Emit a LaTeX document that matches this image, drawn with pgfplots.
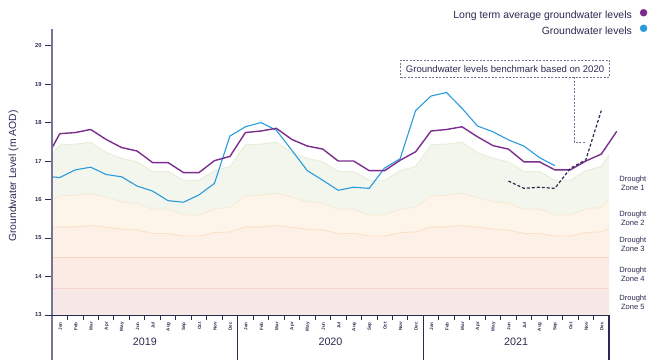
\documentclass[border=0pt]{standalone}
\usepackage{fontspec}
\setmainfont{Liberation Sans}
\usepackage{pgfplots}
\pgfplotsset{compat=1.18}
\usepackage{pgfplotstable}
\definecolor{navy}{HTML}{2B2A52}
\definecolor{axisgrey}{HTML}{77739A}
\definecolor{ltaP}{HTML}{7B2D8E}
\definecolor{gwB}{HTML}{2A9BDC}
\definecolor{zoneA}{HTML}{F2F6EC}
\definecolor{zoneAline}{HTML}{E4EDD6}
\definecolor{zoneB}{HTML}{FDF5E9}
\definecolor{zoneBline}{HTML}{F7EAD3}
\definecolor{zoneC}{HTML}{FDF0E6}
\definecolor{zoneCline}{HTML}{FBE0C6}
\definecolor{zoneD}{HTML}{FCEBE4}
\definecolor{zoneDline}{HTML}{F9D5C6}
\definecolor{zoneE}{HTML}{F7E8E8}
\definecolor{zoneEline}{HTML}{F5D2CB}

\pgfplotstableread{
x z1 z2 z3
0 17.16 15.99 15.25
0.5 17.42 16.09 15.29
1.5 17.44 16.11 15.29
2.5 17.49 16.16 15.32
3.5 17.22 16.06 15.28
4.5 17.07 15.94 15.23
5.5 16.98 15.90 15.21
6.5 16.73 15.75 15.12
7.5 16.73 15.75 15.12
8.5 16.50 15.60 15.05
9.5 16.50 15.60 15.05
10.5 16.75 15.75 15.14
11.5 16.86 15.80 15.16
12.5 17.42 16.09 15.29
13.5 17.44 16.11 15.29
14.5 17.49 16.16 15.32
15.5 17.22 16.06 15.28
16.5 17.07 15.94 15.23
17.5 16.98 15.90 15.21
18.5 16.73 15.75 15.12
19.5 16.73 15.75 15.12
20.5 16.50 15.60 15.05
21.5 16.50 15.60 15.05
22.5 16.75 15.75 15.14
23.5 16.86 15.80 15.16
24.5 17.42 16.09 15.29
25.5 17.44 16.11 15.29
26.5 17.49 16.16 15.32
27.5 17.22 16.06 15.28
28.5 17.07 15.94 15.23
29.5 16.98 15.90 15.21
30.5 16.73 15.75 15.12
31.5 16.73 15.75 15.12
32.5 16.50 15.60 15.05
33.5 16.50 15.60 15.05
34.5 16.75 15.75 15.14
35.5 16.86 15.80 15.16
36 17.16 15.99 15.25
}\zones

\pgfplotstableread{
x y
0 17.34
0.5 17.71
1.5 17.74
2.5 17.82
3.5 17.56
4.5 17.35
5.5 17.26
6.5 16.96
7.5 16.96
8.5 16.70
9.5 16.70
10.5 17.01
11.5 17.12
12.5 17.74
13.5 17.78
14.5 17.85
15.5 17.56
16.5 17.39
17.5 17.31
18.5 17.00
19.5 17.00
20.5 16.75
21.5 16.75
22.5 17.02
23.5 17.24
24.5 17.78
25.5 17.82
26.5 17.89
27.5 17.63
28.5 17.40
29.5 17.31
30.5 16.98
31.5 16.98
32.5 16.77
33.5 16.77
34.5 17.00
35.5 17.18
36.5 17.77
}\lta

\pgfplotstableread{
x y
0 16.59
0.5 16.57
1.5 16.77
2.5 16.84
3.5 16.65
4.5 16.59
5.5 16.35
6.5 16.22
7.5 15.97
8.5 15.93
9.5 16.12
10.5 16.42
11.5 17.65
12.5 17.89
13.5 18.00
14.5 17.80
15.5 17.28
16.5 16.75
17.5 16.50
18.5 16.24
19.5 16.32
20.5 16.29
21.5 16.82
22.5 17.06
23.5 18.31
24.5 18.69
25.5 18.78
26.5 18.37
27.5 17.91
28.5 17.76
29.5 17.55
30.5 17.39
31.5 17.09
32.5 16.88
}\gw

\pgfplotstableread{
x y
29.5 16.48
30.5 16.29
31.5 16.32
32.5 16.29
33.5 16.81
34.5 17.03
35.5 18.31
}\bench

\begin{document}
\begin{tikzpicture}
\useasboundingbox (-52bp,-45bp) rectangle (605bp,315bp);
\begin{axis}[
  scale only axis, width=557bp, height=286bp,
  xmin=0, xmax=36, ymin=13, ymax=20.43,
  clip=false, axis on top,
  axis x line*=bottom, axis y line*=left,
  x axis line style={-, navy, line width=0.8bp},
  y axis line style={-, axisgrey, line width=2bp},
  tick align=outside,
  major tick length=7bp, minor tick length=5bp,
  ytick={13,...,20},
  ytick style={navy, line width=0.8bp},
  yticklabel style={font=\bfseries\fontsize{5.8}{6}\selectfont, text=navy},
  /pgf/number format/assume math mode=true,
  xtick={0.5,1.5,...,35.5},
  xticklabels={Jan,Feb,Mar,Apr,May,Jun,Jul,Aug,Sep,Oct,Nov,Dec,Jan,Feb,Mar,Apr,May,Jun,Jul,Aug,Sep,Oct,Nov,Dec,Jan,Feb,Mar,Apr,May,Jun,Jul,Aug,Sep,Oct,Nov,Dec},
  major x tick style={draw=none},
  minor xtick={1,...,11,13,14,...,23,25,26,...,35},
  minor x tick style={navy, line width=0.8bp},
  xticklabel style={rotate=90, anchor=east, font=\bfseries\fontsize{4.6}{5}\selectfont, text=navy, inner sep=0pt, yshift=-0.5bp},
  ylabel={Groundwater Level (m AOD)},
  ylabel style={at={(axis description cs:-0.0691,0.486)}, anchor=center, font=\fontsize{10.4}{12}\selectfont, text=navy},
  legend style={draw=none, fill=none, at={(axis description cs:1.0691,1.0705)}, anchor=north east,
    font=\fontsize{10.5}{12}\selectfont, text=navy, row sep=3.1bp, column sep=8bp,
    inner sep=0pt, nodes={inner sep=0pt, text height=8bp, text depth=2.5bp}},
  legend cell align=right, legend plot pos=right,
]
\addplot[fill=zoneA, draw=none, forget plot] table[x=x,y=z1]{\zones} -- (axis cs:36,13) -- (axis cs:0,13) -- cycle;
\addplot[fill=zoneB, draw=none, forget plot] table[x=x,y=z2]{\zones} -- (axis cs:36,13) -- (axis cs:0,13) -- cycle;
\addplot[fill=zoneC, draw=none, forget plot] table[x=x,y=z3]{\zones} -- (axis cs:36,13) -- (axis cs:0,13) -- cycle;
\addplot[fill=zoneD, draw=none, forget plot] coordinates {(0,14.5) (36,14.5) (36,13) (0,13)} -- cycle;
\addplot[fill=zoneE, draw=none, forget plot] coordinates {(0,13.7) (36,13.7) (36,13) (0,13)} -- cycle;
\addplot[draw=zoneAline, line width=0.8bp, forget plot] table[x=x,y=z1]{\zones};
\addplot[draw=zoneBline, line width=0.8bp, forget plot] table[x=x,y=z2]{\zones};
\addplot[draw=zoneCline, line width=0.8bp, forget plot] table[x=x,y=z3]{\zones};
\addplot[draw=zoneDline, line width=0.8bp, forget plot] coordinates {(0,14.5) (36,14.5)};
\addplot[draw=zoneEline, line width=0.8bp, forget plot] coordinates {(0,13.7) (36,13.7)};

\addplot[gwB, line width=1.1bp, line join=round, forget plot] table[x=x,y=y]{\gw};
\addplot[ltaP, line width=1.4bp, line join=round, forget plot] table[x=x,y=y]{\lta};
\addplot[navy, line width=1.2bp, dash pattern=on 3bp off 2bp, forget plot] table[x=x,y=y]{\bench};

\addlegendimage{only marks, mark=*, mark size=3.5bp, color=ltaP, legend image code/.code={\fill[ltaP] (3.5bp,3.5bp) circle[radius=3.5bp];}}
\addlegendentry{Long term average groundwater levels}
\addlegendimage{only marks, mark=*, mark size=3.5bp, color=gwB, legend image code/.code={\fill[gwB] (3.5bp,3.5bp) circle[radius=3.5bp];}}
\addlegendentry{Groundwater levels}

\draw[axisgrey, line width=2bp] (axis cs:0,13) -- ++(0,-28bp);
\draw[navy, line width=0.8bp] (axis cs:12,13) -- ++(0,-28bp);
\draw[navy, line width=0.8bp] (axis cs:24,13) -- ++(0,-28bp);
\draw[navy, line width=1.1bp] (axis cs:36,13) -- ++(0,-28bp);

\node[font=\fontsize{10.8}{12}\selectfont, text=navy] at (axis cs:6,13) [yshift=-27bp] {2019};
\node[font=\fontsize{10.8}{12}\selectfont, text=navy] at (axis cs:18,13) [yshift=-27bp] {2020};
\node[font=\fontsize{10.8}{12}\selectfont, text=navy] at (axis cs:30,13) [yshift=-27bp] {2021};

\node[draw=axisgrey, line width=0.7bp, dash pattern=on 2bp off 1.5bp, minimum width=208.6bp, minimum height=17.3bp, inner sep=0pt, font=\fontsize{9.6}{11}\selectfont, text=navy] at (axis cs:29.28,19.40) {Groundwater levels benchmark based on 2020};
\draw[axisgrey, line width=0.8bp, dash pattern=on 2bp off 1.5bp] (axis cs:33.76,19.174) -- (axis cs:33.76,17.486) -- (axis cs:34.52,17.486);

\node[align=center, font=\fontsize{7.6}{9}\selectfont, text=navy] at (axis cs:37.54,16.416) {Drought\\Zone 1};
\node[align=center, font=\fontsize{7.6}{9}\selectfont, text=navy] at (axis cs:37.54,15.51) {Drought\\Zone 2};
\node[align=center, font=\fontsize{7.6}{9}\selectfont, text=navy] at (axis cs:37.54,14.83) {Drought\\Zone 3};
\node[align=center, font=\fontsize{7.6}{9}\selectfont, text=navy] at (axis cs:37.54,14.07) {Drought\\Zone 4};
\node[align=center, font=\fontsize{7.6}{9}\selectfont, text=navy] at (axis cs:37.54,13.32) {Drought\\Zone 5};
\end{axis}
\end{tikzpicture}
\end{document}
